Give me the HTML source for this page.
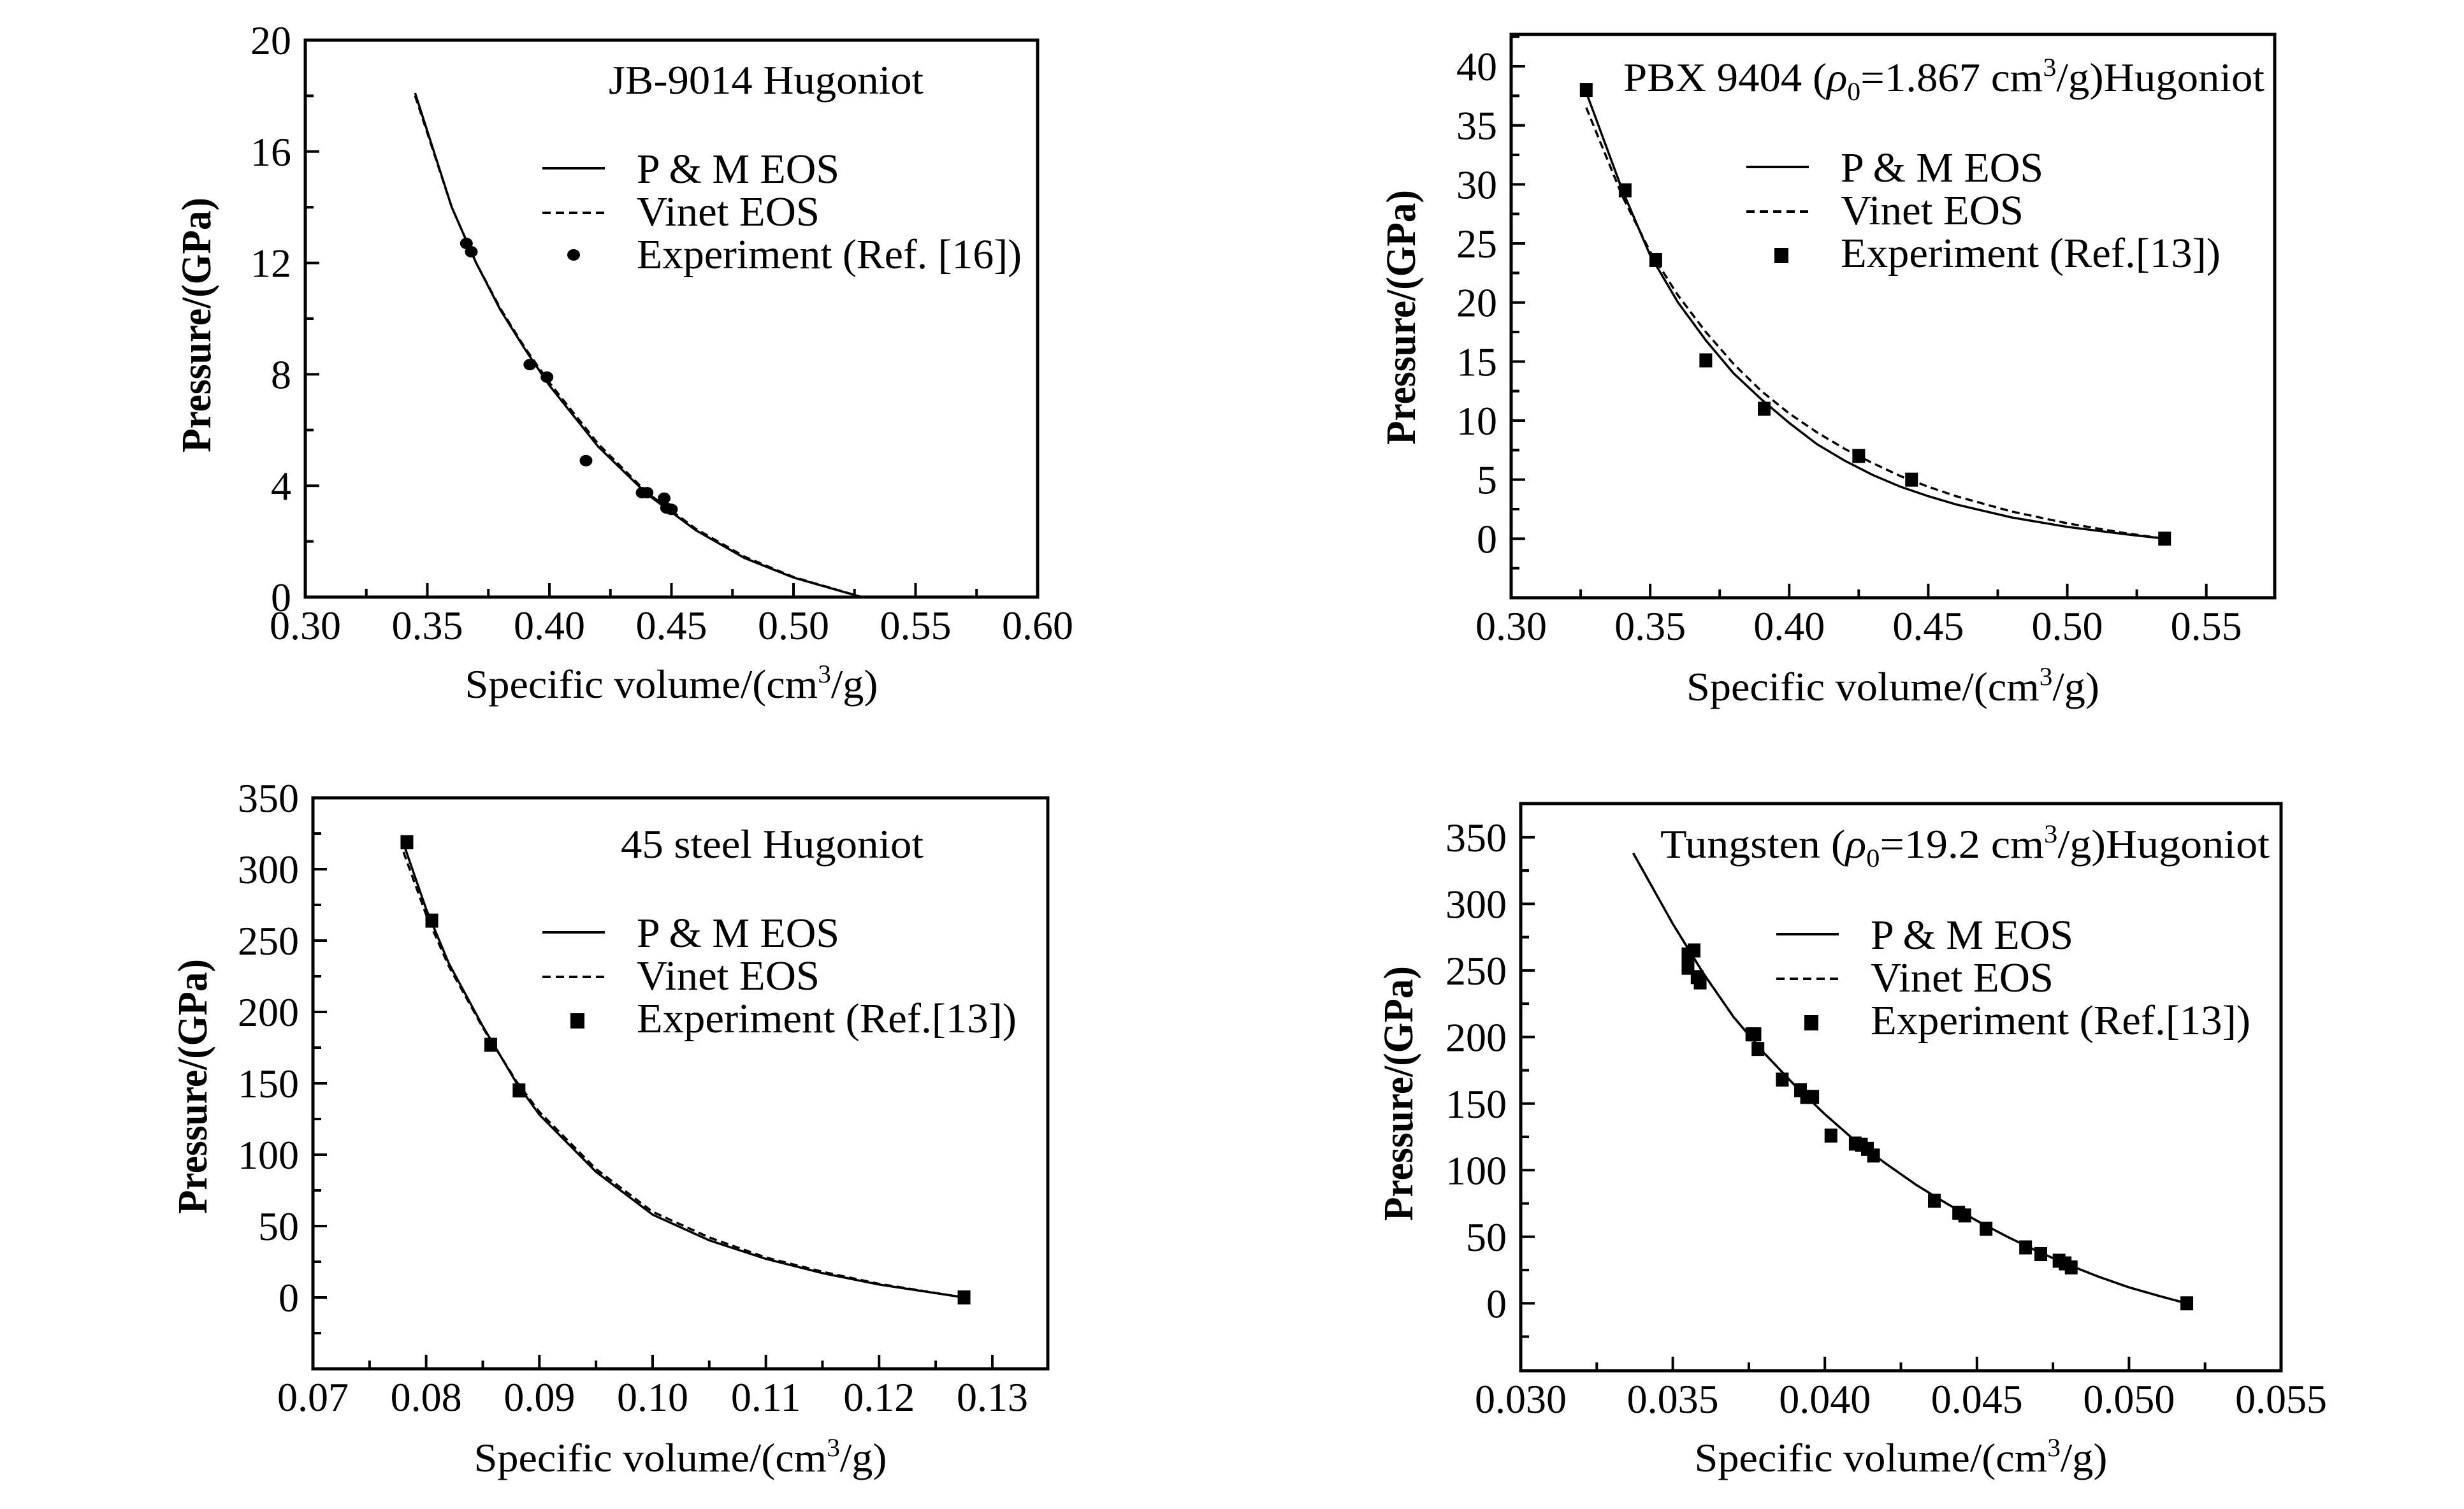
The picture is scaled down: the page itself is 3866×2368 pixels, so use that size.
<!DOCTYPE html>
<html><head><meta charset="utf-8"><style>
html,body{margin:0;padding:0;background:#fff}
svg{display:block}
text{font-family:"Liberation Serif",serif;fill:#000}
</style></head><body>
<svg id="fig" width="3866" height="2368" viewBox="0 0 3866 2368" xmlns="http://www.w3.org/2000/svg"></svg>
<script>
// ---- Panel 1: JB-9014 ----
const p1CurveV = [0.345,0.36,0.37,0.38,0.39,0.40,0.42,0.44,0.46,0.48,0.50,0.528];
const p1CurveP = [18.1,14.0,12.0,10.3,8.9,7.6,5.4,3.7,2.4,1.4,0.7,0];
const p1VinetP = [18.0,14.0,12.0,10.35,8.95,7.7,5.5,3.75,2.45,1.45,0.72,0];
const p1ExpV = [0.366,0.368,0.392,0.399,0.415,0.438,0.440,0.447,0.448,0.450];
const p1ExpP = [12.7,12.4,8.35,7.9,4.9,3.75,3.75,3.55,3.2,3.15];
const p1XTicks = ["0.30","0.35","0.40","0.45","0.50","0.55","0.60"];
const p1YTicks = ["0","4","8","12","16","20"];
// ---- Panel 2: PBX 9404 ----
const p2CurveV = [0.327,0.34,0.35,0.36,0.37,0.38,0.39,0.40,0.41,0.42,0.43,0.44,0.45,0.46,0.48,0.50,0.52,0.535];
const p2CurveP = [37.8,29.5,24.0,20.0,16.8,14.0,11.8,9.8,8.0,6.6,5.4,4.4,3.6,2.9,1.8,1.0,0.4,0];
const p2VinetP = [36.5,29.0,24.3,20.6,17.5,14.8,12.5,10.6,9.0,7.6,6.4,5.3,4.4,3.6,2.3,1.3,0.5,0];
const p2ExpV = [0.327,0.341,0.352,0.370,0.391,0.425,0.444,0.535];
const p2ExpP = [38,29.5,23.6,15.1,11,7,5,0];
const p2XTicks = ["0.30","0.35","0.40","0.45","0.50","0.55"];
const p2YTicks = ["0","5","10","15","20","25","30","35","40"];
// ---- Panel 3: 45 steel ----
const p3CurveV = [0.078,0.080,0.082,0.085,0.088,0.090,0.095,0.100,0.105,0.110,0.115,0.120,0.1275];
const p3CurveP = [318,272,234,190,150,128,88,58,40,27,17,9,0];
const p3VinetP = [312,268,232,189,151,130,90,60,42,28,18,9.5,0];
const p3ExpV = [0.0783,0.0805,0.0857,0.0882,0.1275];
const p3ExpP = [319,264,177,145,0];
const p3XTicks = ["0.07","0.08","0.09","0.10","0.11","0.12","0.13"];
const p3YTicks = ["0","50","100","150","200","250","300","350"];
// ---- Panel 4: Tungsten ----
const p4CurveV = [0.0337,0.035,0.036,0.037,0.038,0.039,0.040,0.041,0.042,0.043,0.044,0.045,0.046,0.047,0.048,0.049,0.050,0.051,0.0519];
const p4CurveP = [338,285,248,215,188,164,142,122,105,89,75,62,50,39,29,20,12,5.5,0];
const p4VinetP = [338,285,248,215,188,164,142,122,105,89,75,62,50,39,29,20,12,5.5,0];
const p4ExpV = [0.0355,0.0355,0.0357,0.0358,0.0359,0.0376,0.0377,0.0378,0.0386,0.0392,0.0394,0.0396,0.0402,0.0410,0.0412,0.0414,0.0416,0.0436,0.0444,0.0446,0.0453,0.0466,0.0471,0.0477,0.0479,0.0481,0.0519];
const p4ExpP = [262,252,265,245,241,202,202,191,168,160,155,155,126,120,119,116,111,77,68,66,56,42,37,32,30,27,0];
const p4XTicks = ["0.030","0.035","0.040","0.045","0.050","0.055"];
const p4YTicks = ["0","50","100","150","200","250","300","350"];

const NS = "http://www.w3.org/2000/svg";
const svg = document.getElementById("fig");
function mk(tag, attrs, parent){
  const e = document.createElementNS(NS, tag);
  for (const k in attrs) e.setAttribute(k, attrs[k]);
  (parent||svg).appendChild(e);
  return e;
}

function panel(cfg){
  const g = mk("g", {});
  
  
  const L=cfg.L,R=cfg.R,T=cfg.T,B=cfg.B;
  const sx = v => L + (v-cfg.x0)/(cfg.x1-cfg.x0)*(R-L);
  const sy = p => B - (p-cfg.y0)/(cfg.y1-cfg.y0)*(B-T);
  // frame
  const fr = mk("rect",{x:L,y:T,width:R-L,height:B-T,fill:"none",stroke:"#000","stroke-width":5},g);
  
  
  // x ticks
  cfg.xTicks.forEach((lab,i)=>{
    const v = parseFloat(lab);
    const x = sx(v);
    if (x>L+3 && x<R-3) mk("line",{x1:x,x2:x,y1:B,y2:B-22,stroke:"#000","stroke-width":4},g);
    const mv = v + cfg.xStep/2, mx = sx(mv);
    if (mx>L+3 && mx<R-3) mk("line",{x1:mx,x2:mx,y1:B,y2:B-13,stroke:"#000","stroke-width":4},g);
    const t = mk("text",{x:x,y:B+66,"font-size":64,"text-anchor":"middle"},g);
    t.textContent = lab;
    
    
  });
  cfg.yTicks.forEach((lab,i)=>{
    const p = parseFloat(lab);
    const y = sy(p);
    if (y>T+3 && y<B-3) mk("line",{x1:L,x2:L+22,y1:y,y2:y,stroke:"#000","stroke-width":4},g);
    [p+cfg.yStep/2, p-cfg.yStep/2].forEach(mp=>{
      if (mp < parseFloat(cfg.yTicks[0]) && i!==0) return;
      const my = sy(mp);
      if (my>T+3 && my<B-3) mk("line",{x1:L,x2:L+13,y1:my,y2:my,stroke:"#000","stroke-width":4},g);
    });
    const t = mk("text",{x:L-22,y:y+22,"font-size":64,"text-anchor":"end"},g);
    t.textContent = lab;
    
    
  });
  // curves
  const pts = (V,P)=>V.map((v,i)=>sx(v).toFixed(1)+","+sy(P[i]).toFixed(1)).join(" ");
  const c1 = mk("polyline",{points:pts(cfg.cv,cfg.cp),fill:"none",stroke:"#000","stroke-width":3.5},g);
  
  
  const c2 = mk("polyline",{points:pts(cfg.cv,cfg.vp),fill:"none",stroke:"#000","stroke-width":3.5,"stroke-dasharray":"12,7"},g);
  
  
  // experiment points
  cfg.ev.forEach((v,i)=>{
    const x=sx(v), y=sy(cfg.ep[i]);
    let m;
    if (cfg.circle) m = mk("ellipse",{cx:x,cy:y,rx:10,ry:9,fill:"#000"},g);
    else m = mk("rect",{x:x-10,y:y-11,width:20,height:22,fill:"#000"},g);
    
    
  });
  // title
  const tt = mk("text",{x:cfg.tx,y:cfg.ty,"font-size":64,textLength:cfg.tw,lengthAdjust:"spacingAndGlyphs"},g);
  tt.innerHTML = cfg.title;
  
  
  // legend
  const lg = mk("g",{},g);
  
  
  const lx0=cfg.lx, lx1=cfg.lx+98, txx=cfg.lx+148;
  mk("line",{x1:lx0,x2:lx1,y1:cfg.ly,y2:cfg.ly,stroke:"#000","stroke-width":4},lg);
  mk("line",{x1:lx0,x2:lx1,y1:cfg.ly+70,y2:cfg.ly+70,stroke:"#000","stroke-width":4,"stroke-dasharray":"13,8"},lg);
  if (cfg.circle) mk("ellipse",{cx:lx0+49,cy:cfg.ly+136,rx:10,ry:9,fill:"#000"},lg);
  else mk("rect",{x:lx0+44,y:cfg.ly+127,width:22,height:24,fill:"#000"},lg);
  const labs = ["P &amp; M EOS","Vinet EOS",cfg.expLab];
  const lens = [318,287,cfg.expW];
  labs.forEach((s,i)=>{
    const t = mk("text",{x:txx,y:cfg.ly+23+i*67,"font-size":66,textLength:lens[i],lengthAdjust:"spacingAndGlyphs"},lg);
    t.innerHTML = s;
    
    
  });
  // axis titles
  const xt = mk("text",{x:(L+R)/2,y:cfg.xty,"font-size":64,"text-anchor":"middle",textLength:648,lengthAdjust:"spacingAndGlyphs"},g);
  xt.innerHTML = 'Specific volume/(cm<tspan font-size="40" dy="-24">3</tspan><tspan dy="24">/g)</tspan>';
  
  
  const yt = mk("text",{x:0,y:0,"font-size":66,"font-weight":"bold","text-anchor":"middle",textLength:400,lengthAdjust:"spacingAndGlyphs",transform:`translate(${cfg.ytx},${cfg.yty}) rotate(-90)`},g);
  yt.textContent = "Pressure/(GPa)";
  
  
}

const rho = (d)=>'(<tspan font-style="italic">ρ</tspan><tspan font-size="40" dy="14">0</tspan><tspan dy="-14">='+d+' cm</tspan><tspan font-size="40" dy="-24">3</tspan><tspan dy="24">/g)Hugoniot</tspan>';

panel({name:"panel-jb9014",L:479,R:1628,T:63,B:937,x0:0.30,x1:0.60,y0:0,y1:20,xStep:0.05,yStep:4,
  xTicks:p1XTicks,yTicks:p1YTicks,cv:p1CurveV,cp:p1CurveP,vp:p1VinetP,ev:p1ExpV,ep:p1ExpP,circle:true,
  title:"JB-9014 Hugoniot",tx:955,ty:147,tw:494,lx:851,ly:264,expLab:"Experiment (Ref. [16])",expW:604,
  xty:1095,ytx:330,yty:510});
panel({name:"panel-pbx9404",L:2371,R:3569,T:54,B:938,x0:0.30,x1:0.5746,y0:-5,y1:42.7,xStep:0.05,yStep:5,
  xTicks:p2XTicks,yTicks:p2YTicks,cv:p2CurveV,cp:p2CurveP,vp:p2VinetP,ev:p2ExpV,ep:p2ExpP,circle:false,
  title:"PBX 9404 "+rho("1.867"),tx:2547,ty:143,tw:1006,lx:2740,ly:262,expLab:"Experiment (Ref.[13])",expW:596,
  xty:1099,ytx:2220,yty:498});
panel({name:"panel-45-steel",L:491,R:1644,T:1252,B:2148,x0:0.07,x1:0.1349,y0:-50,y1:350,xStep:0.01,yStep:50,
  xTicks:p3XTicks,yTicks:p3YTicks,cv:p3CurveV,cp:p3CurveP,vp:p3VinetP,ev:p3ExpV,ep:p3ExpP,circle:false,
  title:"45 steel Hugoniot",tx:974,ty:1346,tw:475,lx:851,ly:1463,expLab:"Experiment (Ref.[13])",expW:596,
  xty:2309,ytx:324,yty:1705});
panel({name:"panel-tungsten",L:2386,R:3579,T:1261,B:2151,x0:0.030,x1:0.055,y0:-50.6,y1:375.3,xStep:0.005,yStep:50,
  xTicks:p4XTicks,yTicks:p4YTicks,cv:p4CurveV,cp:p4CurveP,vp:p4VinetP,ev:p4ExpV,ep:p4ExpP,circle:false,
  title:"Tungsten  "+rho("19.2"),tx:2605,ty:1346,tw:956,lx:2787,ly:1466,expLab:"Experiment (Ref.[13])",expW:596,
  xty:2309,ytx:2216,yty:1716});
</script>
</body></html>
